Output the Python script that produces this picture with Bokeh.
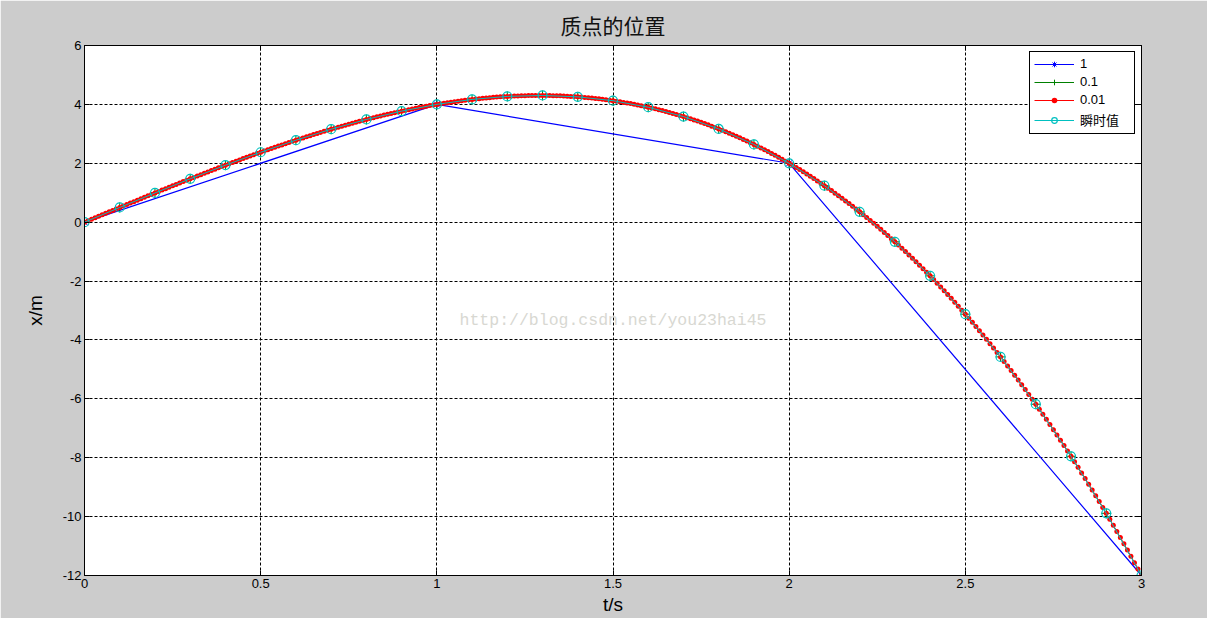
import numpy as np
from bokeh.plotting import figure
from bokeh.models import Range1d, LinearAxis, FixedTicker, Legend, LegendItem, Label
from bokeh.embed import file_html
from bokeh.resources import INLINE

# ---------------- data ----------------
title_text = "质点的位置"
x_label = "t/s"
y_label = "x/m"
watermark = "http://blog.csdn.net/you23hai45"

x_ticks = [0, 0.5, 1, 1.5, 2, 2.5, 3]
x_tick_labels = ["0", "0.5", "1", "1.5", "2", "2.5", "3"]
y_ticks = [-12, -10, -8, -6, -4, -2, 0, 2, 4, 6]
y_tick_labels = ["-12", "-10", "-8", "-6", "-4", "-2", "0", "2", "4", "6"]

series_names = ["1", "0.1", "0.01", "瞬时值"]

# step 1
t_step1 = [0, 1, 2, 3]
x_step1 = [0, 4, 2, -12]

# step 0.1
t_step01 = [round(0.1 * i, 1) for i in range(31)]
x_step01 = [0, 0.499, 0.992, 1.473, 1.936, 2.375, 2.784, 3.157, 3.488, 3.771,
            4.0, 4.169, 4.272, 4.303, 4.256, 4.125, 3.904, 3.587, 3.168, 2.641,
            2.0, 1.239, 0.352, -0.667, -1.824, -3.125, -4.576, -6.183, -7.952, -9.889,
            -12.0]

# instantaneous values (瞬时值)
t_exact = [round(0.1 * i, 1) for i in range(31)]
x_exact = [0, 0.499, 0.992, 1.473, 1.936, 2.375, 2.784, 3.157, 3.488, 3.771,
           4.0, 4.169, 4.272, 4.303, 4.256, 4.125, 3.904, 3.587, 3.168, 2.641,
           2.0, 1.239, 0.352, -0.667, -1.824, -3.125, -4.576, -6.183, -7.952, -9.889,
           -12.0]

# step 0.01
t_step001 = [round(0.01 * i, 2) for i in range(301)]
x_step001 = [
    0, 0.05, 0.1, 0.15, 0.2, 0.25, 0.3, 0.35, 0.4, 0.449,
    0.499, 0.549, 0.598, 0.648, 0.697, 0.747, 0.796, 0.845, 0.894, 0.943,
    0.992, 1.041, 1.089, 1.138, 1.186, 1.234, 1.282, 1.330, 1.378, 1.426,
    1.473, 1.520, 1.567, 1.614, 1.661, 1.707, 1.753, 1.799, 1.845, 1.891,
    1.936, 1.981, 2.026, 2.070, 2.115, 2.159, 2.203, 2.246, 2.289, 2.332,
    2.375, 2.417, 2.459, 2.501, 2.543, 2.584, 2.624, 2.665, 2.705, 2.745,
    2.784, 2.823, 2.862, 2.900, 2.938, 2.975, 3.012, 3.049, 3.086, 3.122,
    3.157, 3.192, 3.227, 3.261, 3.295, 3.328, 3.361, 3.393, 3.425, 3.457,
    3.488, 3.519, 3.549, 3.578, 3.607, 3.636, 3.664, 3.691, 3.719, 3.745,
    3.771, 3.796, 3.821, 3.846, 3.869, 3.893, 3.915, 3.937, 3.959, 3.980,
    4.000, 4.020, 4.039, 4.057, 4.075, 4.092, 4.109, 4.125, 4.140, 4.155,
    4.169, 4.182, 4.195, 4.207, 4.218, 4.229, 4.239, 4.248, 4.257, 4.265,
    4.272, 4.278, 4.284, 4.289, 4.293, 4.297, 4.300, 4.302, 4.303, 4.303,
    4.303, 4.302, 4.300, 4.297, 4.294, 4.290, 4.285, 4.279, 4.272, 4.264,
    4.256, 4.247, 4.237, 4.226, 4.214, 4.201, 4.188, 4.173, 4.158, 4.142,
    4.125, 4.107, 4.088, 4.068, 4.048, 4.026, 4.004, 3.980, 3.956, 3.930,
    3.904, 3.877, 3.848, 3.819, 3.789, 3.758, 3.726, 3.693, 3.658, 3.623,
    3.587, 3.550, 3.512, 3.472, 3.432, 3.391, 3.348, 3.305, 3.260, 3.215,
    3.168, 3.120, 3.071, 3.022, 2.971, 2.918, 2.865, 2.811, 2.755, 2.699,
    2.641, 2.582, 2.522, 2.461, 2.399, 2.335, 2.270, 2.205, 2.138, 2.069,
    2.000, 1.929, 1.858, 1.785, 1.710, 1.635, 1.558, 1.480, 1.401, 1.321,
    1.239, 1.156, 1.072, 0.986, 0.900, 0.812, 0.722, 0.632, 0.540, 0.447,
    0.352, 0.256, 0.159, 0.060, -0.039, -0.141, -0.243, -0.347, -0.452, -0.559,
    -0.667, -0.776, -0.887, -0.999, -1.113, -1.228, -1.344, -1.462, -1.581, -1.702,
    -1.824, -1.948, -2.072, -2.199, -2.327, -2.456, -2.587, -2.719, -2.853, -2.988,
    -3.125, -3.263, -3.403, -3.544, -3.687, -3.831, -3.977, -4.125, -4.274, -4.424,
    -4.576, -4.730, -4.885, -5.041, -5.200, -5.360, -5.521, -5.684, -5.849, -6.015,
    -6.183, -6.353, -6.524, -6.696, -6.871, -7.047, -7.225, -7.404, -7.585, -7.768,
    -7.952, -8.138, -8.326, -8.515, -8.706, -8.899, -9.094, -9.290, -9.488, -9.688,
    -9.889, -10.092, -10.297, -10.504, -10.712, -10.922, -11.134, -11.348, -11.564, -11.781,
    -12.000,
]

# ---------------- figure ----------------
p = figure(width=1207, height=618, output_backend="svg", toolbar_location=None,
           x_range=Range1d(0, 3), y_range=Range1d(-12, 6),
           min_border_left=84, min_border_right=66, min_border_top=45, min_border_bottom=43,
           background_fill_color="white", border_fill_color="#cccccc",
           outline_line_color="black")

p.title.text = title_text
p.title.align = "center"
p.title.text_font = "Noto Sans CJK SC"
p.title.text_font_size = "21px"
p.title.text_font_style = "normal"
p.title.text_color = "#111111"
p.title.standoff = 12

xt = FixedTicker(ticks=x_ticks)
yt = FixedTicker(ticks=y_ticks)


def style_axis(ax, ticker, labels, show):
    ax.ticker = ticker
    ax.major_tick_in = 5
    ax.major_tick_out = 0
    ax.minor_tick_line_color = None
    ax.axis_line_color = "black"
    ax.major_tick_line_color = "black"
    ax.major_label_text_font = "Liberation Sans"
    ax.major_label_text_font_size = "13px"
    ax.major_label_text_color = "black"
    if show:
        ax.major_label_overrides = dict(zip(ticker.ticks, labels))
        ax.major_label_standoff = 3
    else:
        ax.major_label_overrides = {t: "" for t in ticker.ticks}
        ax.major_label_standoff = 0


style_axis(p.xaxis[0], xt, x_tick_labels, True)
style_axis(p.yaxis[0], yt, y_tick_labels, True)
p.xaxis.axis_label = x_label
p.yaxis.axis_label = y_label
for ax in (p.xaxis[0], p.yaxis[0]):
    ax.axis_label_text_font = "Liberation Sans"
    ax.axis_label_text_font_size = "19px"
    ax.axis_label_text_font_style = "normal"
    ax.axis_label_text_color = "black"
p.xaxis.axis_label_standoff = 3
p.yaxis.axis_label_standoff = 14

r_ax = LinearAxis()
style_axis(r_ax, FixedTicker(ticks=y_ticks), y_tick_labels, False)
p.add_layout(r_ax, "right")
t_ax = LinearAxis()
style_axis(t_ax, FixedTicker(ticks=x_ticks), x_tick_labels, False)
p.add_layout(t_ax, "above")

p.xgrid.ticker = xt
p.ygrid.ticker = yt
for g in (p.xgrid[0], p.ygrid[0]):
    g.grid_line_color = "black"
    g.grid_line_dash = "3 2"
    g.grid_line_width = 1
    g.grid_line_alpha = 1

# ---------------- series ----------------
blue = "#0000ff"
green = "#008000"
red = "#ff0000"
cyan = "#00c0c0"

b_line = p.line(t_step1, x_step1, line_color=blue, line_width=1.2)
b_mark = p.scatter(t_step1, x_step1, marker="asterisk", size=9, line_color=blue, line_width=1)

g_line = p.line(t_step01, x_step01, line_color=green, line_width=1)
g_mark = p.scatter(t_step01, x_step01, marker="cross", size=10, line_color=green, line_width=1)

r_line = p.line(t_step001, x_step001, line_color=red, line_width=1)
r_mark = p.scatter(t_step001, x_step001, marker="circle", size=5, line_color=None,
                   fill_color=red)

c_line = p.line(t_exact, x_exact, line_color=cyan, line_width=1)
c_mark = p.scatter(t_exact, x_exact, marker="circle", size=9, line_color=cyan,
                   fill_color=None, line_width=1.2)

legend = Legend(
    items=[
        LegendItem(label=series_names[0], renderers=[b_line, b_mark]),
        LegendItem(label=series_names[1], renderers=[g_line, g_mark]),
        LegendItem(label=series_names[2], renderers=[r_line, r_mark]),
        LegendItem(label=series_names[3], renderers=[c_line, c_mark]),
    ],
    location="top_right", margin=6, padding=4, spacing=3,
    glyph_width=40, glyph_height=14, label_height=14, label_width=50, label_standoff=6,
    border_line_color="black", border_line_width=1, border_line_alpha=1,
    background_fill_color="white", background_fill_alpha=1,
    label_text_font="Liberation Sans, Noto Sans CJK SC", label_text_font_size="13px",
    label_text_color="black",
)
p.add_layout(legend)

wm = Label(x=1.5, y=-3.35, text=watermark, text_align="center", text_baseline="middle",
           text_font="Liberation Mono", text_font_size="16.5px", text_color="#d8d8d2")
p.add_layout(wm)

open("out.html", "w").write(file_html(p, INLINE))
